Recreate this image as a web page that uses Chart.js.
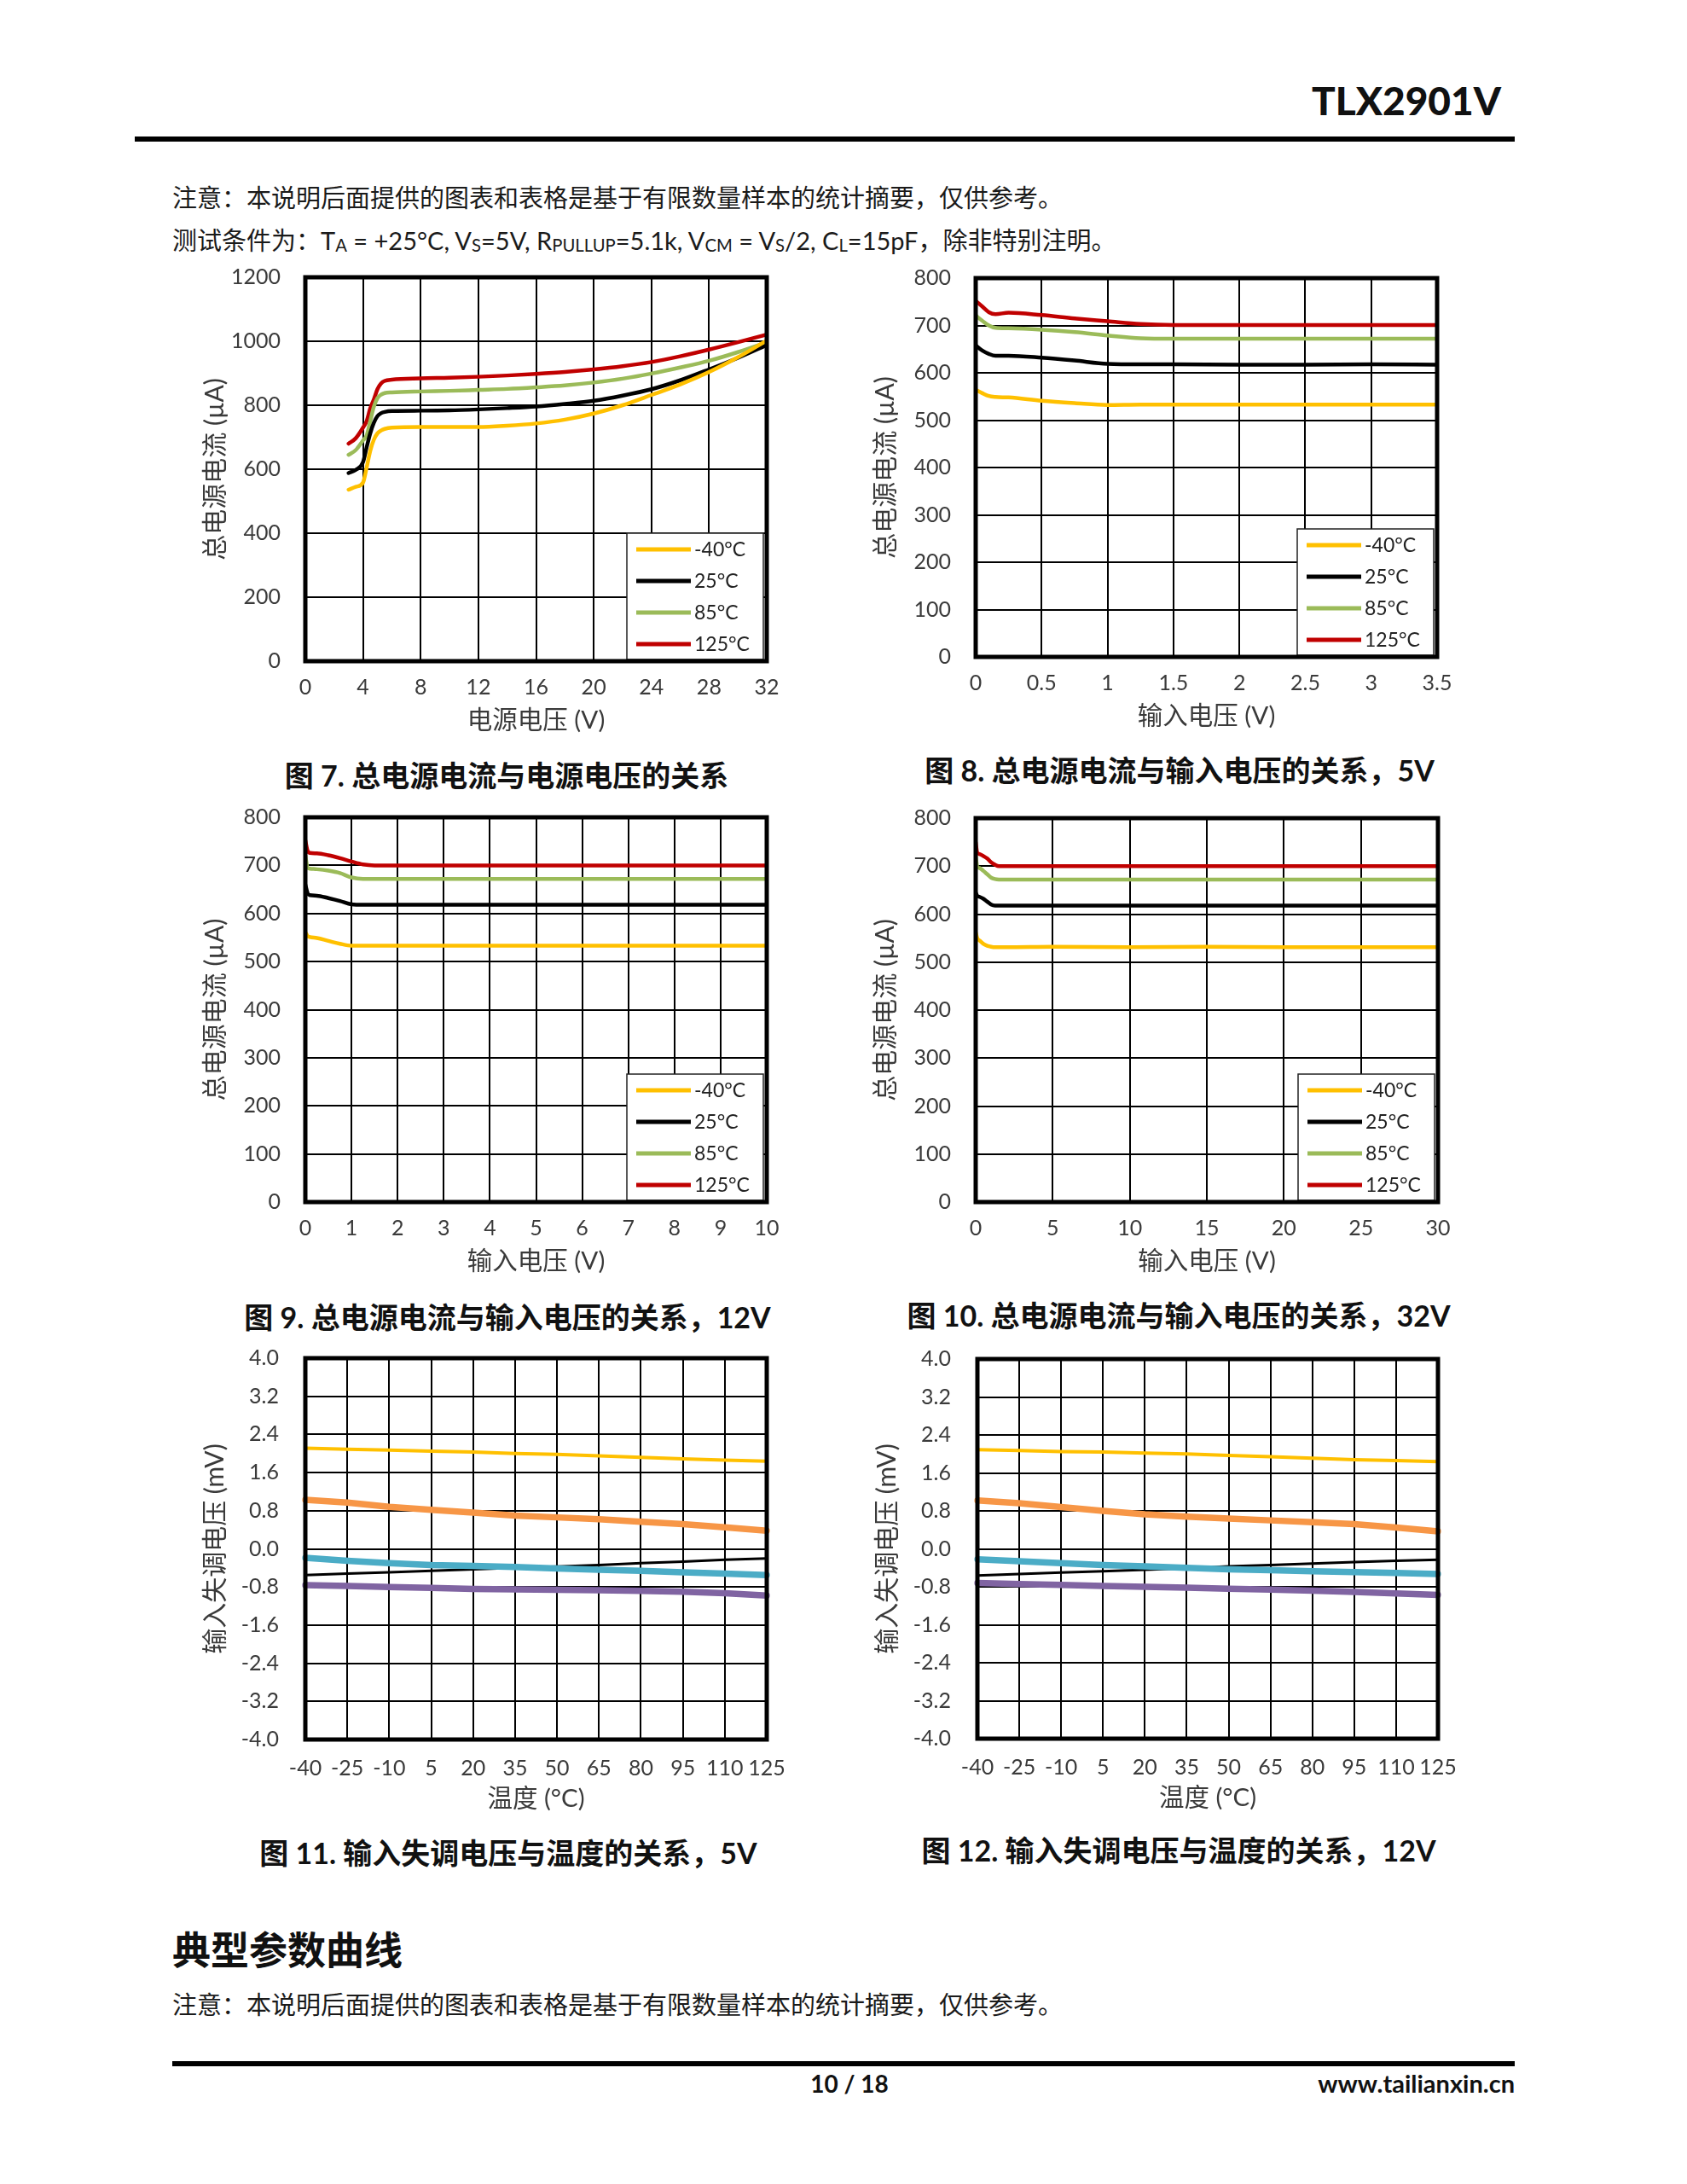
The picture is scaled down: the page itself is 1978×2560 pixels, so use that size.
<!DOCTYPE html>
<html><head><meta charset="utf-8">
<script src="https://cdn.jsdelivr.net/npm/chart.js@4.4.0/dist/chart.umd.min.js"></script>
<style>
html,body{margin:0;padding:0;background:#fff;}
body{width:1978px;height:2560px;position:relative;overflow:hidden;font-family:Lato,'Noto Sans CJK SC',sans-serif;color:#1a1a1a;}
.t{position:absolute;white-space:nowrap;line-height:1;}
.bar{position:absolute;background:#000;}
.cap{position:absolute;width:1000px;text-align:center;font-weight:700;font-size:34px;line-height:1;white-space:nowrap;color:#111;}
.sub{font-size:0.7em;vertical-align:-0.08em;}
</style></head>
<body>
<div class="t" style="right:218px;top:95px;font-size:46px;font-weight:900;color:#111;">TLX2901V</div>
<div class="bar" style="left:158px;top:160px;width:1618px;height:6px;"></div>
<div class="t" style="left:202px;top:217px;font-size:29px;">注意：本说明后面提供的图表和表格是基于有限数量样本的统计摘要，仅供参考。</div>
<div class="t" style="left:202px;top:267px;font-size:29px;">测试条件为：T<span class="sub">A</span> = +25°C, V<span class="sub">S</span>=5V, R<span class="sub">PULLUP</span>=5.1k, V<span class="sub">CM</span> = V<span class="sub">S</span>/2, C<span class="sub">L</span>=15pF，除非特别注明。</div>

<div class="cap" style="left:94px;top:892px;">图 7. 总电源电流与电源电压的关系</div>
<div class="cap" style="left:883px;top:886px;">图 8. 总电源电流与输入电压的关系，5V</div>
<div class="cap" style="left:95px;top:1527px;">图 9. 总电源电流与输入电压的关系，12V</div>
<div class="cap" style="left:882px;top:1525px;">图 10. 总电源电流与输入电压的关系，32V</div>
<div class="cap" style="left:96px;top:2155px;">图 11. 输入失调电压与温度的关系，5V</div>
<div class="cap" style="left:882px;top:2152px;">图 12. 输入失调电压与温度的关系，12V</div>

<div class="t" style="left:202px;top:2264px;font-size:45px;font-weight:700;color:#111;">典型参数曲线</div>
<div class="t" style="left:202px;top:2335px;font-size:29px;">注意：本说明后面提供的图表和表格是基于有限数量样本的统计摘要，仅供参考。</div>
<div class="bar" style="left:202px;top:2416px;width:1574px;height:6px;"></div>
<div class="t" style="left:896px;width:200px;text-align:center;top:2428px;font-size:28px;font-weight:700;color:#111;">10 / 18</div>
<div class="t" style="right:202px;top:2427px;font-size:29px;font-weight:700;color:#111;">www.tailianxin.cn</div>

<script>
// ---------- DATA ----------
const tempSeriesNames = ['-40°C', '25°C', '85°C', '125°C'];

// Fig 7: supply current vs supply voltage
const fig7SupplyVoltage = [3, 3.5, 4, 4.25, 4.5, 4.75, 5, 5.25, 5.5, 6, 8, 10, 12, 14, 16, 18, 20, 22, 24, 26, 28, 30, 32];
const fig7Minus40 = [536, 545, 558, 605, 657, 692, 712, 721, 726, 730, 732, 732, 732, 736, 743, 755, 774, 800, 832, 865, 904, 950, 1002];
const fig7At25 = [588, 598, 622, 668, 712, 745, 766, 775, 779, 782, 783, 784, 787, 791, 796, 804, 814, 830, 850, 878, 912, 948, 988];
const fig7At85 = [645, 660, 690, 705, 750, 795, 822, 833, 838, 840, 843, 845, 848, 851, 856, 862, 871, 883, 899, 918, 939, 966, 997];
const fig7At125 = [680, 697, 730, 750, 790, 818, 850, 868, 876, 880, 884, 886, 889, 893, 898, 904, 912, 922, 935, 953, 974, 997, 1021];
const fig7XTicks = [0, 4, 8, 12, 16, 20, 24, 28, 32];
const fig7YTicks = [0, 200, 400, 600, 800, 1000, 1200];

// Fig 8: supply current vs input voltage, 5V
const fig8InputVoltage = [0, 0.05, 0.1, 0.15, 0.25, 0.5, 0.75, 1, 1.25, 1.5, 2, 2.5, 3, 3.5];
const fig8Minus40 = [564, 557, 551, 549, 548, 541, 536, 532, 533, 533, 533, 533, 533, 533];
const fig8At25 = [658, 647, 640, 636, 636, 632, 626, 619, 618, 618, 617, 617, 618, 617];
const fig8At85 = [721, 710, 700, 695, 694, 691, 686, 679, 673, 672, 672, 672, 672, 672];
const fig8At125 = [752, 740, 728, 724, 727, 722, 715, 709, 703, 701, 701, 701, 701, 701];
const fig8XTicks = [0, 0.5, 1, 1.5, 2, 2.5, 3, 3.5];
const currentYTicks = [0, 100, 200, 300, 400, 500, 600, 700, 800];

// Fig 9: supply current vs input voltage, 12V
const fig9InputVoltage = [0, 0.05, 0.1, 0.25, 0.5, 0.75, 1, 1.25, 1.5, 2, 3, 4, 5, 6, 7, 8, 9, 10];
const fig9Minus40 = [561, 553, 551, 549, 543, 537, 533, 533, 533, 533, 533, 533, 533, 533, 533, 533, 533, 533];
const fig9At25 = [660, 642, 638, 637, 632, 626, 619, 618, 618, 618, 618, 618, 618, 618, 618, 618, 618, 618];
const fig9At85 = [721, 695, 693, 692, 689, 684, 675, 672, 672, 672, 672, 672, 672, 672, 672, 672, 672, 672];
const fig9At125 = [752, 730, 726, 725, 721, 715, 708, 702, 700, 700, 700, 700, 700, 700, 700, 700, 700, 700];
const fig9XTicks = [0, 1, 2, 3, 4, 5, 6, 7, 8, 9, 10];

// Fig 10: supply current vs input voltage, 32V
const fig10InputVoltage = [0, 0.1, 0.25, 0.5, 0.75, 1, 1.25, 1.5, 2, 5, 10, 15, 20, 25, 30];
const fig10Minus40 = [562, 550, 545, 538, 534, 532, 531, 531, 531, 532, 531, 532, 531, 531, 531];
const fig10At25 = [645, 638, 636, 632, 626, 620, 618, 618, 618, 618, 618, 618, 618, 618, 618];
const fig10At85 = [722, 699, 696, 690, 683, 676, 673, 672, 672, 672, 672, 672, 672, 672, 672];
const fig10At125 = [750, 728, 725, 721, 716, 708, 703, 700, 700, 700, 700, 700, 700, 700, 700];
const fig10XTicks = [0, 5, 10, 15, 20, 25, 30];

// Fig 11 / 12: offset voltage vs temperature
const temperatureLabels = [-40, -25, -10, 5, 20, 35, 50, 65, 80, 95, 110, 125];
const offsetYTicks = [-4, -3.2, -2.4, -1.6, -0.8, 0, 0.8, 1.6, 2.4, 3.2, 4];
const fig11Unit1 = [2.11, 2.09, 2.07, 2.05, 2.03, 2.00, 1.98, 1.95, 1.92, 1.89, 1.86, 1.84];
const fig11Unit2 = [1.03, 0.97, 0.88, 0.82, 0.76, 0.70, 0.66, 0.62, 0.57, 0.52, 0.45, 0.38];
const fig11Unit3 = [-0.19, -0.25, -0.30, -0.34, -0.36, -0.38, -0.41, -0.44, -0.46, -0.49, -0.52, -0.55];
const fig11Unit4 = [-0.55, -0.52, -0.49, -0.46, -0.43, -0.40, -0.37, -0.34, -0.30, -0.27, -0.23, -0.20];
const fig11Unit5 = [-0.76, -0.78, -0.80, -0.82, -0.84, -0.85, -0.86, -0.87, -0.88, -0.90, -0.93, -0.98];
const fig12Unit1 = [2.09, 2.07, 2.05, 2.04, 2.02, 2.00, 1.97, 1.94, 1.91, 1.88, 1.86, 1.84];
const fig12Unit2 = [1.02, 0.96, 0.88, 0.80, 0.73, 0.68, 0.64, 0.60, 0.56, 0.52, 0.45, 0.37];
const fig12Unit3 = [-0.22, -0.26, -0.30, -0.34, -0.37, -0.40, -0.43, -0.45, -0.47, -0.49, -0.51, -0.53];
const fig12Unit4 = [-0.56, -0.53, -0.50, -0.47, -0.44, -0.41, -0.37, -0.34, -0.31, -0.28, -0.25, -0.23];
const fig12Unit5 = [-0.72, -0.74, -0.76, -0.78, -0.80, -0.82, -0.84, -0.86, -0.88, -0.91, -0.94, -0.97];

// ---------- STYLE ----------
const FONT = "Lato, 'Noto Sans CJK SC', sans-serif";
const tempColors = ['#FFC000', '#000000', '#9BBB59', '#C00000'];
const unitColors = ['#FFC000', '#F79646', '#4BACC6', '#000000', '#8064A2'];
const unitWidths = [4, 7.5, 7.5, 3, 7.5];

const framePlugin = {
  id: 'frame',
  afterDatasetsDraw(chart, args, opts) {
    const a = chart.chartArea, ctx = chart.ctx;
    ctx.save();
    if (opts.legend) {
      const bw = 160, bh = 148;
      const x0 = a.right - 4 - bw, y0 = a.bottom - 2 - bh;
      ctx.fillStyle = '#fff';
      ctx.fillRect(x0, y0, bw, bh);
      ctx.lineWidth = 1.5;
      ctx.strokeStyle = '#222';
      ctx.strokeRect(x0, y0, bw, bh);
      chart.data.datasets.forEach((ds, i) => {
        const y = y0 + 19 + i * 37;
        ctx.strokeStyle = ds.borderColor;
        ctx.lineWidth = 5;
        ctx.beginPath(); ctx.moveTo(x0 + 11, y); ctx.lineTo(x0 + 75, y); ctx.stroke();
        ctx.fillStyle = '#222';
        ctx.font = '23px ' + FONT;
        ctx.textBaseline = 'middle';
        ctx.textAlign = 'left';
        ctx.fillText(ds.label, x0 + 79, y + 1);
      });
    }
    ctx.lineWidth = 5;
    ctx.strokeStyle = '#000';
    ctx.strokeRect(a.left, a.top, a.right - a.left, a.bottom - a.top);
    ctx.restore();
  }
};

function fixedTicks(arr) {
  return function (scale) { scale.ticks = arr.map(v => ({ value: v })); };
}

function makeChart(cfg) {
  const { L, T, R, B } = cfg.box;
  const padL = 160, padT = 30, padR = 40, padB = 100;
  const w = R - L + padL + padR, h = B - T + padT + padB;
  const c = document.createElement('canvas');
  c.width = w; c.height = h;
  c.style.cssText = `position:absolute;left:${L - padL}px;top:${T - padT}px;width:${w}px;height:${h}px;`;
  document.body.appendChild(c);

  const xScale = {
    type: cfg.xType,
    grid: { color: '#000', lineWidth: 2, drawTicks: false },
    border: { display: false },
    ticks: { padding: cfg.xPad || 16, color: '#3a3a3a', font: { size: 25, family: FONT }, maxRotation: 0, autoSkip: false },
    title: { display: true, text: cfg.xTitle, color: '#3a3a3a', font: { size: 29.5, family: FONT }, padding: { top: 0, bottom: 13 } },
    afterFit(s) { s.height = padB; s.paddingLeft = 0; s.paddingRight = 0; }
  };
  if (cfg.xType === 'linear') {
    xScale.min = cfg.xTicks[0];
    xScale.max = cfg.xTicks[cfg.xTicks.length - 1];
    xScale.afterBuildTicks = fixedTicks(cfg.xTicks);
    xScale.ticks.callback = v => String(v);
  }
  const yScale = {
    type: 'linear',
    min: cfg.yTicks[0], max: cfg.yTicks[cfg.yTicks.length - 1],
    afterBuildTicks: fixedTicks(cfg.yTicks),
    grid: { color: '#000', lineWidth: 2, drawTicks: false },
    border: { display: false },
    ticks: { padding: cfg.yPad, color: '#3a3a3a', font: { size: 25, family: FONT }, callback: cfg.yFmt || (v => String(v)) },
    title: { display: true, text: cfg.yTitle, color: '#3a3a3a', font: { size: 30, family: FONT }, padding: { top: 36, bottom: 0 } },
    afterFit(s) { s.width = padL; s.paddingTop = 0; s.paddingBottom = 0; }
  };

  new Chart(c, {
    type: 'line',
    data: cfg.data,
    options: {
      responsive: false, animation: false, devicePixelRatio: 1,
      layout: { padding: { left: 0, top: padT, right: padR, bottom: 0 } },
      elements: { point: { radius: 0 }, line: { cubicInterpolationMode: 'monotone', borderCapStyle: 'round', borderJoinStyle: 'round' } },
      plugins: { legend: { display: false }, tooltip: { enabled: false }, frame: { legend: cfg.legend } },
      scales: { x: xScale, y: yScale }
    },
    plugins: [framePlugin]
  });
}

function tempDatasets(xs, seriesList) {
  return {
    datasets: seriesList.map((ys, i) => ({
      label: tempSeriesNames[i],
      data: xs.map((x, j) => ({ x: x, y: ys[j] })),
      borderColor: tempColors[i],
      borderWidth: 4.5,
      fill: false
    }))
  };
}

function unitDatasets(seriesList) {
  return {
    labels: temperatureLabels.map(String),
    datasets: seriesList.map((ys, i) => ({
      label: 'unit' + (i + 1),
      data: ys,
      borderColor: unitColors[i],
      borderWidth: unitWidths[i],
      fill: false,
      cubicInterpolationMode: 'default',
      tension: 0
    }))
  };
}

const currentTitle = '总电源电流 (µA)';
const inputTitle = '输入电压 (V)';
const offsetFmt = v => Number(v).toFixed(1);

makeChart({ box: { L: 358, T: 325, R: 899, B: 775 }, xType: 'linear', xTicks: fig7XTicks, yTicks: fig7YTicks, yPad: 29,
  xTitle: '电源电压 (V)', yTitle: currentTitle, legend: true,
  data: tempDatasets(fig7SupplyVoltage, [fig7Minus40, fig7At25, fig7At85, fig7At125]) });
makeChart({ box: { L: 1144, T: 326, R: 1685, B: 770 }, xType: 'linear', xTicks: fig8XTicks, yTicks: currentYTicks, yPad: 29,
  xTitle: inputTitle, yTitle: currentTitle, legend: true,
  data: tempDatasets(fig8InputVoltage, [fig8Minus40, fig8At25, fig8At85, fig8At125]) });
makeChart({ box: { L: 358, T: 958, R: 899, B: 1409 }, xType: 'linear', xTicks: fig9XTicks, yTicks: currentYTicks, yPad: 29,
  xTitle: inputTitle, yTitle: currentTitle, legend: true,
  data: tempDatasets(fig9InputVoltage, [fig9Minus40, fig9At25, fig9At85, fig9At125]) });
makeChart({ box: { L: 1144, T: 959, R: 1686, B: 1409 }, xType: 'linear', xTicks: fig10XTicks, yTicks: currentYTicks, yPad: 29,
  xTitle: inputTitle, yTitle: currentTitle, legend: true,
  data: tempDatasets(fig10InputVoltage, [fig10Minus40, fig10At25, fig10At85, fig10At125]) });
makeChart({ box: { L: 358, T: 1592, R: 899, B: 2039 }, xType: 'category', xPad: 19, yTicks: offsetYTicks, yPad: 31, yFmt: offsetFmt,
  xTitle: '温度 (°C)', yTitle: '输入失调电压 (mV)', legend: false,
  data: unitDatasets([fig11Unit1, fig11Unit2, fig11Unit3, fig11Unit4, fig11Unit5]) });
makeChart({ box: { L: 1146, T: 1593, R: 1686, B: 2038 }, xType: 'category', xPad: 19, yTicks: offsetYTicks, yPad: 31, yFmt: offsetFmt,
  xTitle: '温度 (°C)', yTitle: '输入失调电压 (mV)', legend: false,
  data: unitDatasets([fig12Unit1, fig12Unit2, fig12Unit3, fig12Unit4, fig12Unit5]) });
</script>
</body></html>
